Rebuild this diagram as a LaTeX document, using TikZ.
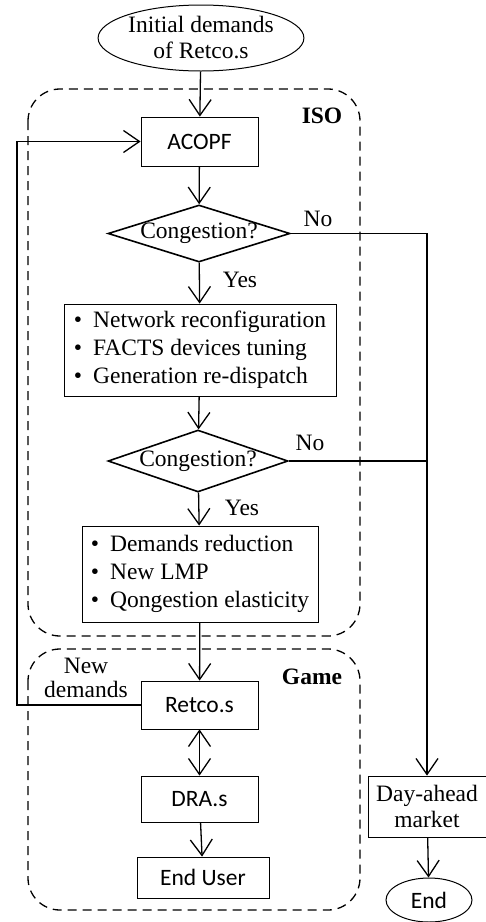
\documentclass[tikz,border=0pt]{standalone}
\usepackage{fontspec}
\setmainfont{Liberation Serif}
\newfontfamily\calib{Carlito}
\usetikzlibrary{shapes.geometric,arrows.meta,positioning}

\begin{document}
\begin{tikzpicture}[x=1pt,y=-1pt,line width=1.3pt,
		font=\fontsize{23.5}{28}\selectfont,
		box/.style={draw,line width=0.8pt,inner sep=0pt},
		cbox/.style={box,font=\fontsize{23.5}{28}\selectfont\calib},
		cond/.style={draw,diamond,aspect=3.2,inner sep=-2pt,line width=1.6pt},
		oval/.style={draw,ellipse,inner sep=0pt,line width=1pt,align=center},
		arr/.style={-{Straight Barb[length=16pt,width=22pt]}},
		grp/.style={dash pattern=on 9pt off 6pt,rounded corners=32pt}]
		\useasboundingbox (0,0) rectangle (486,922);

		% groups
		\draw[grp] (28,89) rectangle (360,636);
		\draw[grp] (28,649) rectangle (360,910);
		\node[font=\fontsize{23.5}{28}\selectfont\bfseries] (iso) at (322,116) {ISO};
		\node[font=\fontsize{23.5}{28}\selectfont\bfseries] (game) at (312,677) {Game};

		% main column
		\node[oval,minimum width=202pt,minimum height=66pt] (init) at (201,38) {Initial demands\\[-2pt]of Retco.s};
		\node[cbox,minimum width=117pt,minimum height=49pt] (acopf) at (199.5,141.5) {ACOPF};
		\node[cond,minimum width=182pt,minimum height=57pt] (cong1) at (199,233.5) {Congestion?};
		\node[box,minimum width=272pt,minimum height=92pt] (relief) at (200,350) {\begin{tabular}{@{}l@{\hspace{11pt}}l@{}}
				\textbullet & Network reconfiguration\\
				\textbullet & FACTS devices tuning\\
				\textbullet & Generation re-dispatch
			\end{tabular}};
		\node[cond,minimum width=180pt,minimum height=62pt] (cong2) at (198,461) {Congestion?};
		\node[box,minimum width=236pt,minimum height=96pt] (reduce) at (200,574) {\begin{tabular}{@{}l@{\hspace{11pt}}l@{}}
				\textbullet & Demands reduction\\
				\textbullet & New LMP\\
				\textbullet & Qongestion elasticity
			\end{tabular}};
		\node[cbox,minimum width=117pt,minimum height=48pt] (retco) at (199.5,705) {Retco.s};
		\node[cbox,minimum width=117pt,minimum height=46pt] (dra) at (199.5,799) {DRA.s};
		\node[cbox,minimum width=132pt,minimum height=41pt] (user) at (203,877.5) {End User};

		% market column
		\node[box,align=center,minimum width=118pt,minimum height=61pt] (dam) at (427,806.5) {Day-ahead\\[-2pt]market};
		\node[oval,minimum width=86pt,minimum height=44pt,font=\fontsize{23.5}{28}\selectfont\calib] (fin) at (429,900) {End};

		% connectors
		\draw[arr] (init) -- (acopf);
		\draw[arr] (acopf) -- (cong1);
		\draw[arr] (cong1) -- (relief);
		\draw[arr] (relief) -- (cong2);
		\draw[arr] (cong2) -- (reduce);
		\draw[arr] (reduce) -- (retco);
		\draw[{Straight Barb[length=16pt,width=22pt]}-{Straight Barb[length=16pt,width=22pt]}] (retco) -- (dra);
		\draw[arr] (dra) -- (user);
		\draw[arr] (cong1.east) -| (dam.north);
		\draw (cong2.east) -- (cong2.east -| dam.north);
		\draw[arr] (dam) -- (fin);
		\coordinate (loop) at (17,0);
		\draw[arr] (retco.west) -- (retco.west -| loop) |- (acopf.west);

		% labels
		\node (yes1) at (240,280) {Yes};
		\node (yes2) at (242,508) {Yes};
		\node (no1) at (318,219) {No};
		\node (no2) at (310,443) {No};
		\node[align=center] (newd) at (86,678) {New\\[-4pt]demands};
	\end{tikzpicture}
\end{document}
